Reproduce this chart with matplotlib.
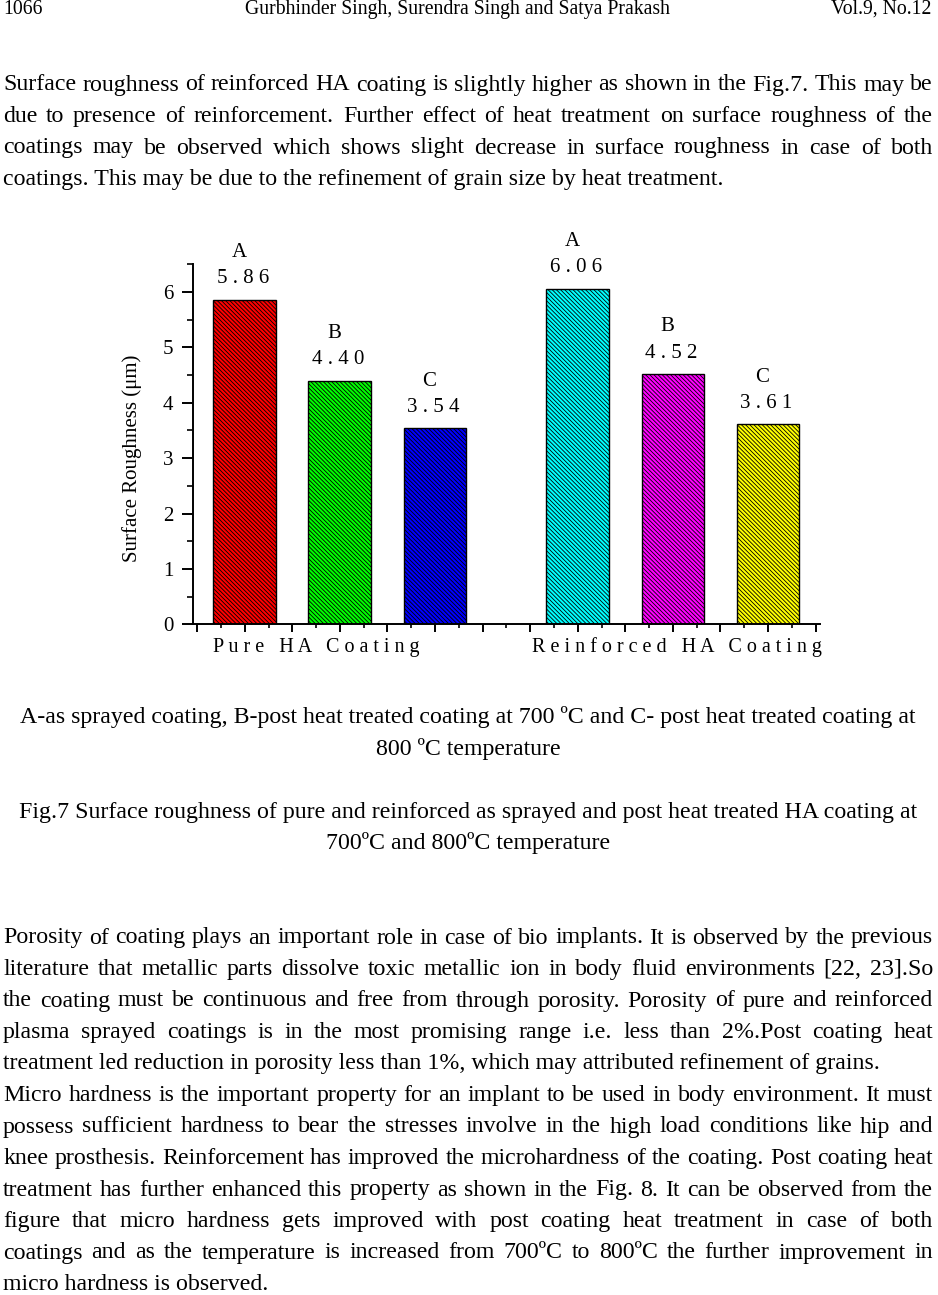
import numpy as np
import matplotlib

matplotlib.use("Agg")
import matplotlib.pyplot as plt
from matplotlib.ticker import AutoMinorLocator, MultipleLocator

plt.rcParams["font.family"] = ["Liberation Serif", "DejaVu Serif"]
plt.rcParams["hatch.linewidth"] = 0.6

# Chart data
groups = ["Pure HA Coating", "Reinforced HA Coating"]
conditions = ["A", "B", "C"]
pure_values = [5.86, 4.40, 3.54]
reinforced_values = [6.06, 4.52, 3.61]
pure_colors = ["#ff0000", "#00ff00", "#0000ff"]
reinforced_colors = ["#00ffff", "#ff00ff", "#ffff00"]
y_label = "Surface Roughness (\u03bcm)"

# Page text
header_left = "1066"
header_mid = "Gurbhinder Singh, Surendra Singh and Satya Prakash"
header_right = "Vol.9, No.12"

top_par = [
    "Surface roughness of reinforced HA coating is slightly higher as shown in the Fig.7. This may be",
    "due to presence of reinforcement. Further effect of heat treatment on surface roughness of the",
    "coatings may be observed which shows slight decrease in surface roughness in case of both",
    "coatings. This may be due to the refinement of grain size by heat treatment.",
]
caption_lines = [
    "A-as sprayed coating, B-post heat treated coating at 700 \u00baC and C- post heat treated coating at",
    "800 \u00baC temperature",
]
fig_caption = [
    "Fig.7 Surface roughness of pure and reinforced as sprayed and post heat treated HA coating at",
    "700\u00baC and 800\u00baC temperature",
]
porosity_par = [
    "Porosity of coating plays an important role in case of bio implants. It is observed by the previous",
    "literature that metallic parts dissolve toxic metallic ion in body fluid environments [22, 23].So",
    "the coating must be continuous and free from through porosity. Porosity of pure and reinforced",
    "plasma sprayed coatings is in the most promising range i.e. less than 2%.Post coating heat",
    "treatment led reduction in porosity less than 1%, which may attributed refinement of grains.",
]
hardness_par = [
    "Micro hardness is the important property for an implant to be used in body environment. It must",
    "possess sufficient hardness to bear the stresses involve in the high load conditions like hip and",
    "knee prosthesis. Reinforcement has improved the microhardness of the coating. Post coating heat",
    "treatment has further enhanced this property as shown in the Fig. 8. It can be observed from the",
    "figure that micro hardness gets improved with post coating heat treatment in case of both",
    "coatings and as the temperature is increased from 700\u00baC to 800\u00baC the further improvement in",
    "micro hardness is observed.",
]

W, H = 938, 1295
BODY_FS = 17.2
LEFT, RIGHT = 3, 933
LINE_STEP = 31.5

fig = plt.figure(figsize=(W / 100, H / 100), dpi=100)
renderer = fig.canvas.get_renderer()


def fx(px):
    return px / W


def fy(py):
    return 1 - py / H


def put_line(y, line, justify):
    if not justify:
        fig.text(fx(LEFT), fy(y), line, fontsize=BODY_FS, va="baseline")
        return
    words = line.split()
    texts = [fig.text(0, fy(y), w, fontsize=BODY_FS, va="baseline") for w in words]
    widths = [t.get_window_extent(renderer).width for t in texts]
    gap = (RIGHT - LEFT - sum(widths)) / (len(words) - 1)
    x = LEFT
    for t, w in zip(texts, widths):
        t.set_x(fx(x))
        x += w + gap


def put_paragraph(y0, lines):
    for i, line in enumerate(lines):
        put_line(y0 + i * LINE_STEP, line, i < len(lines) - 1)


# Header
fig.text(fx(3), fy(14), header_left, fontsize=14.2, va="baseline")
fig.text(fx(457), fy(14), header_mid, fontsize=14.2, va="baseline", ha="center")
fig.text(fx(931), fy(14), header_right, fontsize=14.2, va="baseline", ha="right")

put_paragraph(90.5, top_par)
put_paragraph(943.5, porosity_par)
put_paragraph(943.5 + 5 * LINE_STEP, hardness_par)

for i, line in enumerate(caption_lines):
    fig.text(fx(468), fy(723 + i * LINE_STEP), line, fontsize=BODY_FS, va="baseline", ha="center")
for i, line in enumerate(fig_caption):
    fig.text(fx(468), fy(818 + i * LINE_STEP), line, fontsize=BODY_FS, va="baseline", ha="center")


def spaced(s):
    return " ".join(s)


# Chart
ax = fig.add_axes([fx(192.7), fy(624.3), (820 - 192.7) / W, 360 / H])

bar_width = 0.66
group_starts = [0, 3.5]
all_values = [pure_values, reinforced_values]
all_colors = [pure_colors, reinforced_colors]

for start, vals, cols in zip(group_starts, all_values, all_colors):
    xs = start + np.arange(len(vals))
    ax.bar(xs, vals, width=bar_width, color=cols, edgecolor="black",
           linewidth=1, hatch="\\" * 8)
    for x, v, c in zip(xs, vals, conditions):
        ax.annotate(spaced(f"{v:.2f}"), (x, v), xytext=(-1.5, 15),
                    textcoords="offset points", ha="center", va="center", fontsize=15)
        ax.annotate(c, (x, v), xytext=(-4, 34), textcoords="offset points",
                    ha="center", va="center", fontsize=15)

ax.set_xlim(-0.547, 6.046)
ax.set_ylim(0, 6.5)

# group labels under the axis
ax.annotate(spaced(groups[0]), (group_starts[0] - bar_width / 2, 0), xycoords=("data", "axes fraction"),
            xytext=(0, -16.5), textcoords="offset points", ha="left", va="center", fontsize=14.5)
ax.annotate(spaced(groups[1]), (1, 0), xycoords="axes fraction",
            xytext=(1, -16.5), textcoords="offset points", ha="right", va="center", fontsize=14.5)

ax.set_ylabel(y_label, fontsize=15, va="center")
ax.yaxis.set_label_coords(-61 / 628, 0.462)

ax.spines["top"].set_visible(False)
ax.spines["right"].set_visible(False)
ax.spines["left"].set_linewidth(1.4)
ax.spines["bottom"].set_linewidth(1.4)

ax.xaxis.set_major_locator(MultipleLocator(0.5))
ax.xaxis.set_minor_locator(AutoMinorLocator(2))
ax.yaxis.set_major_locator(MultipleLocator(1))
ax.yaxis.set_minor_locator(AutoMinorLocator(2))
ax.set_xticklabels([])

ax.tick_params(axis="y", which="major", length=8, width=1.4, labelsize=15, pad=6)
ax.tick_params(axis="y", which="minor", length=4, width=1.2)
ax.tick_params(axis="x", which="major", length=6, width=1.4)
ax.tick_params(axis="x", which="minor", length=3, width=1.2)

fig.savefig("out.png", dpi=100)
